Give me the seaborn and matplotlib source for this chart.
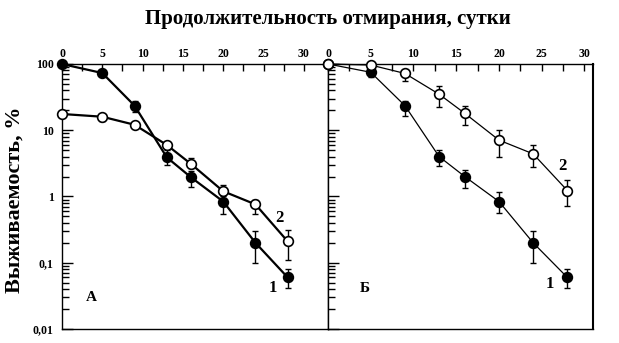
import numpy as np
import pandas as pd
import matplotlib
matplotlib.use("Agg")
import matplotlib.pyplot as plt
import matplotlib.ticker as mticker
import seaborn as sns

days = [0, 5, 9, 13, 16, 20, 24, 28]

# panel A
a1 = [100, 73, 23.5, 3.9, 1.95, 0.84, 0.2, 0.06]
a1_lo = [100, 65, 19, 3.0, 1.4, 0.55, 0.1, 0.042]
a1_hi = [100, 80, 28, 5.0, 2.4, 1.0, 0.3, 0.08]
a2 = [17.6, 16, 12.1, 6.0, 3.1, 1.2, 0.76, 0.21]
a2_lo = [17.6, 14, 12.1, 6.0, 2.7, 1.05, 0.55, 0.11]
a2_hi = [17.6, 16, 12.1, 6.0, 3.8, 1.47, 0.9, 0.31]

# panel B
b1 = [100, 75, 23.5, 4.0, 2.0, 0.84, 0.2, 0.06]
b1_lo = [100, 64, 16.6, 2.9, 1.35, 0.56, 0.1, 0.041]
b1_hi = [100, 80, 28, 5.0, 2.5, 1.15, 0.3, 0.08]
b2 = [100, 96.5, 72, 35, 18, 7.1, 4.4, 1.23]
b2_lo = [100, 96.5, 56, 22.7, 12, 3.9, 2.75, 0.72]
b2_hi = [100, 96.5, 72, 46, 23, 10, 6, 1.75]

xticks = [0, 5, 10, 15, 20, 25, 30]
yticks = [0.01, 0.1, 1, 10, 100]
yticklabels = ["0,01", "0,1", "1", "10", "100"]

title = "Продолжительность отмирания, сутки"
ylabel = "Выживаемость, %"

sns.set_style("ticks")
plt.rcParams["font.family"] = ["Liberation Serif", "DejaVu Serif"]
plt.rcParams["font.weight"] = "bold"
for key in ["text.color", "axes.labelcolor", "xtick.color", "ytick.color", "axes.edgecolor"]:
    plt.rcParams[key] = "black"

W, H = 619, 343
fig = plt.figure(figsize=(W / 100, H / 100), dpi=100)
top, bottom = 64, 329
axA = fig.add_axes([62 / W, 1 - bottom / H, (328 - 62) / W, (bottom - top) / H])
axB = fig.add_axes([328 / W, 1 - bottom / H, (593 - 328) / W, (bottom - top) / H])


def drawSeries(ax, y, lo, hi, filled, lw):
    df = pd.DataFrame({"day": days, "val": y})
    sns.lineplot(data=df, x="day", y="val", ax=ax, color="black", lw=lw,
                 marker="o", markersize=7,
                 markerfacecolor="black" if filled else "white",
                 markeredgecolor="black", markeredgewidth=1.2,
                 clip_on=False, zorder=3)
    y = np.array(y)
    yerr = [y - np.array(lo), np.array(hi) - y]
    ax.errorbar(days, y, yerr=yerr, fmt="none", ecolor="black",
                elinewidth=1, capsize=2.5, capthick=1, zorder=2)


drawSeries(axA, a1, a1_lo, a1_hi, True, 1.6)
drawSeries(axA, a2, a2_lo, a2_hi, False, 1.6)
drawSeries(axB, b1, b1_lo, b1_hi, True, 0.9)
drawSeries(axB, b2, b2_lo, b2_hi, False, 0.9)

for ax, xmax in [(axA, 33), (axB, 31)]:
    ax.set_yscale("log")
    ax.set_ylim(0.01, 100)
    ax.set_xlim(0, xmax)
    ax.set_xlabel("")
    ax.set_ylabel("")
    ax.xaxis.tick_top()
    ax.set_xticks(xticks)
    ax.set_xticklabels([str(v) for v in xticks], fontsize=8.5, fontweight="bold")
    ax.xaxis.set_minor_locator(mticker.FixedLocator([2.5, 7.5, 12.5, 17.5, 22.5, 27.5]))
    ax.tick_params(axis="x", which="both", direction="in", length=5, width=1, pad=3)
    ax.set_yticks(yticks)
    ax.yaxis.set_minor_locator(mticker.LogLocator(base=10, subs=np.arange(2, 10)))
    ax.yaxis.set_minor_formatter(mticker.NullFormatter())
    ax.tick_params(axis="y", which="major", direction="in", length=8, width=1, pad=6)
    ax.tick_params(axis="y", which="minor", direction="in", length=5, width=1)
    for s in ax.spines.values():
        s.set_visible(True)
        s.set_linewidth(1)
    ax.set_facecolor("white")

axA.set_yticklabels(yticklabels, fontsize=8.5, fontweight="bold")
axB.set_yticklabels([])
axB.spines["right"].set_linewidth(1.5)

axA.text(27.0, 0.48, "2", fontsize=12, fontweight="bold", ha="center", va="center")
axA.text(26.1, 0.041, "1", fontsize=12, fontweight="bold", ha="center", va="center")
axA.text(3.7, 0.030, "А", fontsize=11, fontweight="bold", ha="center", va="center")
axB.text(27.4, 2.9, "2", fontsize=12, fontweight="bold", ha="center", va="center")
axB.text(25.9, 0.047, "1", fontsize=12, fontweight="bold", ha="center", va="center")
axB.text(4.3, 0.041, "Б", fontsize=11, fontweight="bold", ha="center", va="center")

fig.text(328 / W, 1 - 19 / H, title, fontsize=15, fontweight="bold",
         ha="center", va="center")
fig.text(15 / W, 1 - 200 / H, ylabel, fontsize=16, fontweight="bold",
         rotation=90, ha="center", va="center")

fig.savefig("out.png", dpi=100, facecolor="white")
